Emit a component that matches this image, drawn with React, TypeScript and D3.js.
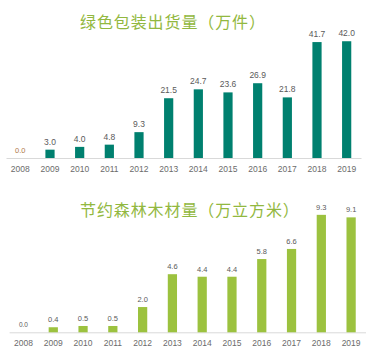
import React from "react";
import * as d3 from "d3";

const years = ["2008","2009","2010","2011","2012","2013","2014","2015","2016","2017","2018","2019"];
const packaging = [0.0, 3.0, 4.0, 4.8, 9.3, 21.5, 24.7, 23.6, 26.9, 21.8, 41.7, 42.0];
const timber = [0.0, 0.4, 0.5, 0.5, 2.0, 4.6, 4.4, 4.4, 5.8, 6.6, 9.3, 9.1];
const title1 = "绿色包装出货量（万件）";
const title2 = "节约森林木材量（万立方米）";

const W = 366, H = 360;
const TITLE_COLOR = "#92b840";
const FONT = "'Liberation Sans', Arial, sans-serif";
const CJK = "'Noto Sans CJK SC', sans-serif";

function Panel({ data, color, x0, x1, base, yMax, yTop, titleY, title, labelSize, labelColor, zeroColor }: any) {
  const x = d3.scaleBand<string>().domain(years).range([x0, x1]).paddingInner(0.69).paddingOuter(0.345);
  const y = d3.scaleLinear().domain([0, yMax]).range([base, yTop]);
  const bw = x.bandwidth();
  return (
    <g>
      <text x={80} y={titleY} fontFamily={CJK} fontSize={16} fill={TITLE_COLOR} letterSpacing={0.9} dominantBaseline="central">{title}</text>
      <line x1={x0 + 1} x2={x1} y1={base + 0.5} y2={base + 0.5} stroke="#d9d9d9" strokeWidth={1} />
      {data.map((v: number, i: number) => {
        const cx = (x(years[i]) as number) + bw / 2;
        return (
          <g key={years[i]}>
            {v > 0 && <rect x={x(years[i])} y={y(v)} width={bw} height={base - y(v)} fill={color} />}
            <text x={cx} y={y(v) - 5} textAnchor="middle" fontFamily={FONT} fontSize={v === 0 ? labelSize - 1 : labelSize} fill={v === 0 ? zeroColor : labelColor}>{v.toFixed(1)}</text>
            <text x={cx} y={base + 14} textAnchor="middle" fontFamily={FONT} fontSize={8.5} fill="#6b6b6b">{years[i]}</text>
          </g>
        );
      })}
    </g>
  );
}

export default function App() {
  return (
    <svg width={W} height={H} style={{ position: "absolute", left: 0, top: 0, background: "#fff" }}>
      <Panel data={packaging} color="#00806f" x0={5.5} x1={361.5} base={158} yMax={45} yTop={158 - 45 * 2.78}
        titleY={21} title={title1} labelSize={8.5} labelColor="#5a5a5a" zeroColor="#b07a4a" />
      <Panel data={timber} color="#9cc23f" x0={8.6} x1={366} base={332.3} yMax={10} yTop={332.3 - 126.3}
        titleY={209} title={title2} labelSize={7.5} labelColor="#5a5a5a" zeroColor="#5a5a5a" />
    </svg>
  );
}
